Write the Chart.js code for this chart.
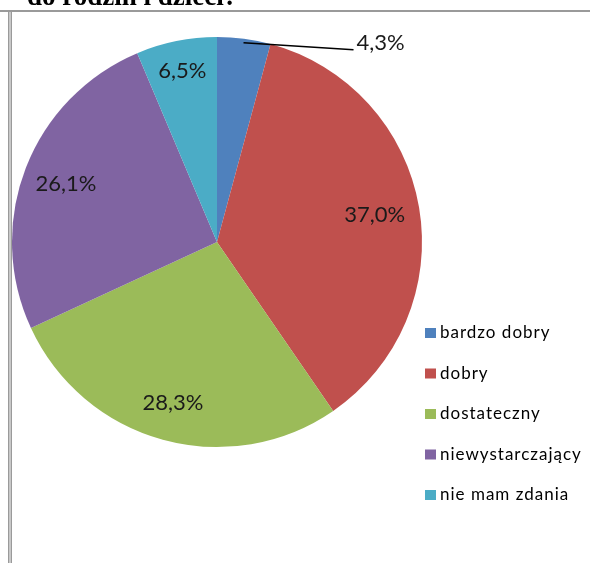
<!DOCTYPE html>
<html>
<head>
<meta charset="utf-8">
<script src="https://cdn.jsdelivr.net/npm/chart.js@4.4.1/dist/chart.umd.min.js"></script>
<style>
  html, body { margin: 0; padding: 0; background: #fff; }
  #wrap { width: 590px; height: 563px; position: relative; }
</style>
</head>
<body>
<div id="wrap"><canvas id="pie" width="590" height="563"></canvas></div>
<script>
// data
const categories = ['bardzo dobry', 'dobry', 'dostateczny', 'niewystarczający', 'nie mam zdania'];
const shares = [4.3, 37.0, 28.3, 26.1, 6.5];
const labelsText = ['4,3%', '37,0%', '28,3%', '26,1%', '6,5%'];
const sliceColors = ['#4F81BD', '#C0504D', '#9BBB59', '#8064A2', '#4BACC6'];
const titleText = 'do rodzin i dzieci?';

// frame + cut off title
const framePlugin = {
    id: 'frame',
    beforeDraw(chart) {
        const ctx = chart.ctx;
        ctx.save();
        ctx.fillStyle = '#000';
        ctx.font = 'bold 27px "Liberation Serif", "Times New Roman", serif';
        ctx.textBaseline = 'alphabetic';
        ctx.fillText(titleText, 27, 5);
        ctx.fillStyle = '#fff';
        ctx.fillRect(0, 9, chart.width, chart.height);
        ctx.fillStyle = '#9a9a9a';
        ctx.fillRect(0, 10, chart.width, 2);
        ctx.fillRect(8, 10, 4, chart.height - 10);
        ctx.fillStyle = '#c8c8c8';
        ctx.fillRect(9, 12, 2, chart.height - 12);
        ctx.restore();
    }
};

// how far out each inside label sits (fraction of radius)
const labelRadius = [1, 0.78, 0.815, 0.79, 0.85];

// percentage labels and legend
const labelPlugin = {
    id: 'sliceLabels',
    afterDraw(chart) {
        const ctx = chart.ctx;
        const arcs = chart.getDatasetMeta(0).data;
        ctx.save();
        ctx.font = '22px Lato, "Open Sans", sans-serif';
        ctx.fillStyle = '#1a1a1a';
        ctx.textBaseline = 'middle';
        ctx.textAlign = 'center';
        arcs.forEach((arc, i) => {
            const p = arc.getProps(['x', 'y', 'startAngle', 'endAngle', 'outerRadius'], true);
            const mid = (p.startAngle + p.endAngle) / 2;
            if (i === 0) {
                // outside label with leader line
                const r = p.outerRadius;
                const sx = p.x + Math.cos(mid) * (r - 4);
                const sy = p.y + Math.sin(mid) * (r - 4);
                ctx.strokeStyle = '#000';
                ctx.lineWidth = 1.5;
                ctx.beginPath();
                ctx.moveTo(sx, sy);
                ctx.lineTo(sx + 110, sy + 7);
                ctx.stroke();
                ctx.textAlign = 'left';
                ctx.fillText(labelsText[i], sx + 113, sy);
                ctx.textAlign = 'center';
            } else {
                const rr = p.outerRadius * labelRadius[i];
                ctx.fillText(labelsText[i], p.x + Math.cos(mid) * rr, p.y + Math.sin(mid) * rr);
            }
        });
        // legend
        ctx.textAlign = 'left';
        ctx.font = '17px Lato, "Open Sans", sans-serif';
        ctx.letterSpacing = '1px';
        categories.forEach((c, i) => {
            const y = 333 + i * 40.5;
            ctx.fillStyle = sliceColors[i];
            ctx.fillRect(425, y - 5, 11, 10);
            ctx.fillStyle = '#000';
            ctx.fillText(c, 440, y);
        });
        ctx.restore();
    }
};

new Chart(document.getElementById('pie').getContext('2d'), {
    type: 'pie',
    data: {
        labels: categories,
        datasets: [{
            data: shares,
            backgroundColor: sliceColors,
            borderWidth: 0
        }]
    },
    options: {
        responsive: false,
        animation: false,
        layout: { padding: { left: 12, top: 37, right: 168, bottom: 116 } },
        plugins: {
            legend: { display: false },
            tooltip: { enabled: false }
        }
    },
    plugins: [framePlugin, labelPlugin]
});
</script>
</body>
</html>
